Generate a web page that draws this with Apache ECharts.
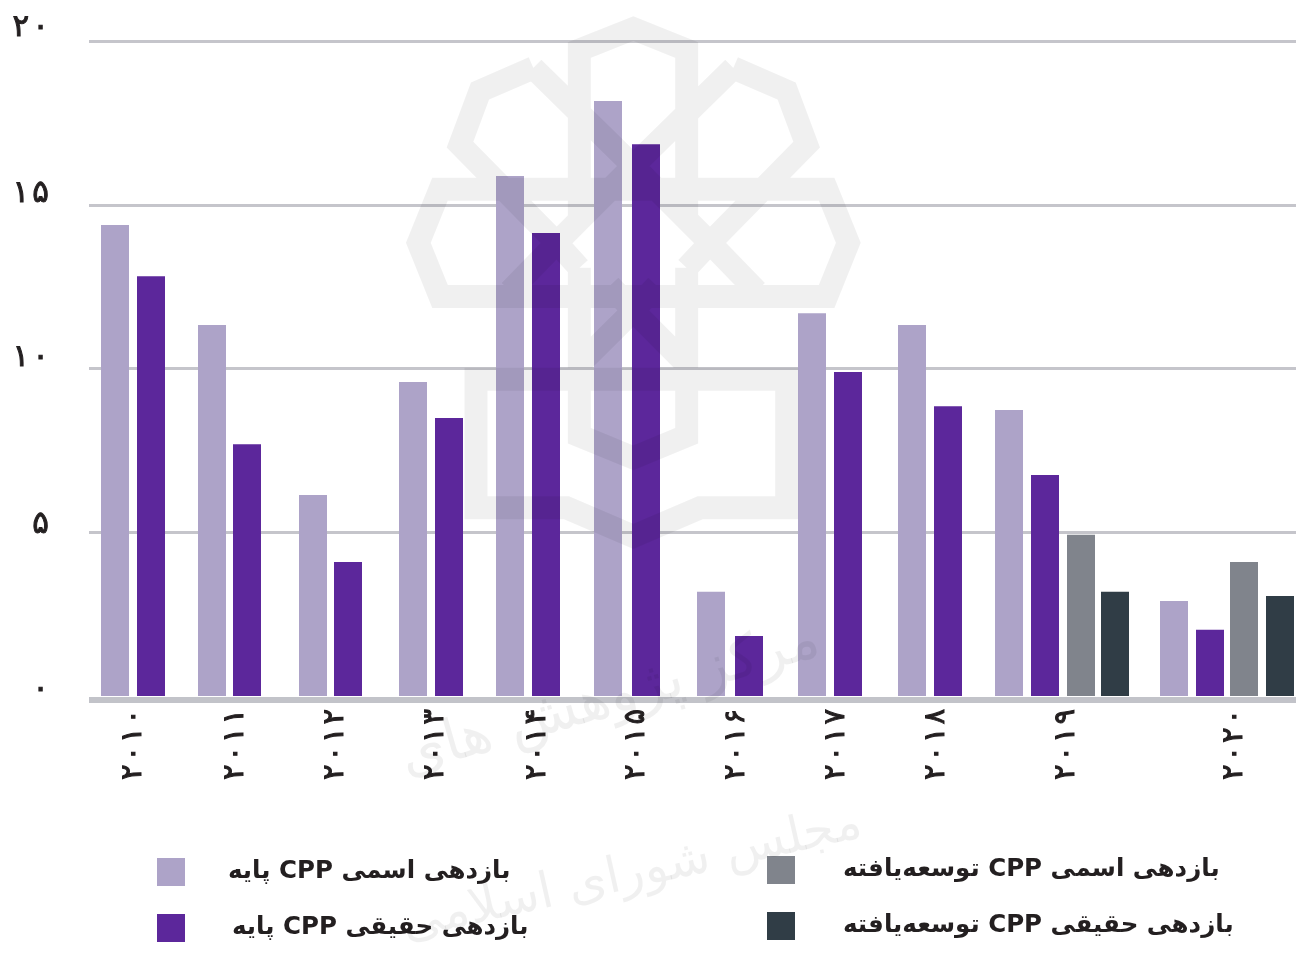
<!DOCTYPE html>
<html dir="rtl">
<head>
<meta charset="utf-8">
<style>
  html, body { margin: 0; padding: 0; background: #fff; }
  #chart { width: 1303px; height: 955px; position: absolute; left: 0; top: 0; }
</style>
<script src="https://cdn.jsdelivr.net/npm/echarts@6/dist/echarts.min.js"></script>
</head>
<body>
<div id="chart"></div>
<script>
const years = ['۲۰۱۰', '۲۰۱۱', '۲۰۱۲', '۲۰۱۳', '۲۰۱۴', '۲۰۱۵', '۲۰۱۶', '۲۰۱۷', '۲۰۱۸', '۲۰۱۹', '۲۰۲۰']
const yTicks = ['۰', '۵', '۱۰', '۱۵', '۲۰']

const nominalBase = [14.38, 11.33, 6.14, 9.59, 15.88, 18.17, 3.18, 11.69, 11.33, 8.73, 2.9]
const realBase = [12.82, 7.69, 4.09, 8.49, 14.14, 16.85, 1.83, 9.89, 8.85, 6.75, 2.02]
const nominalDev = [4.92, 4.09]
const realDev = [3.18, 3.05]

const names = ['بازدهی اسمی CPP پایه', 'بازدهی حقیقی CPP پایه', 'بازدهی اسمی CPP توسعه‌یافته', 'بازدهی حقیقی CPP توسعه‌یافته']
const colors = ['#ada3c8', '#5c279b', '#80848c', '#303d46']

// x axis runs in px-like units from the left of the plot, the groups are not evenly spaced
const nominalBaseX = [26, 123, 224, 324, 421, 519, 622, 723, 823, 920, 1085]
const realBaseX = [62, 158, 259, 360, 457, 557, 660, 759, 859, 956, 1121]
const nominalDevX = [992, 1155]
const realDevX = [1026, 1191]
const yearLabelX = [44, 146, 246, 346, 448, 547, 647, 747, 847, 977, 1145]

const pairs = (xs, ys) => ys.map((v, i) => [xs[i], v])

const barSeries = (name, i, xs, ys) => ({
  name,
  type: 'bar',
  barWidth: 28,
  barGap: '-100%',
  itemStyle: { color: colors[i] },
  data: pairs(xs, ys)
})

const legendSpots = [
  { left: 157, top: 858, gap: 43 },
  { left: 157, top: 914, gap: 47 },
  { left: 767, top: 856, gap: 48 },
  { left: 767, top: 912, gap: 48 }
]

const fontFa = '"DejaVu Sans", "Noto Sans", sans-serif'
const inkColor = '#231f20'
const wm = 'rgba(0,0,0,0.06)'
// digits in the reference are set wide apart, LRO keeps them in order inside the rtl page
const spaced = s => '\u202d' + s.split('').join('\u200a') + '\u202c'

// line height per tick, the digits sit at different heights over their lines
const tickLine = { s0: 12, s1: 14, s2: 22, s3: 22, s4: 26 }
const tickRich = {}
Object.keys(tickLine).forEach(k => {
  tickRich[k] = {
    fontSize: 31,
    color: inkColor,
    fontFamily: fontFa,
    textBorderColor: inkColor,
    textBorderWidth: 1,
    lineHeight: tickLine[k]
  }
})

// faint logo of the watermark, drawn on top of the bars
const logoPath = [
  'M568 610 L568 140 L730 80 L890 140 L890 610',
  'M568 750 L568 1220 L730 1282 L890 1220 L890 750',
  'M85 680 L150 530 L1310 530 L1375 680 L1310 830 L150 830 Z',
  'M258 1062 L258 1422 L530 1422 L730 1502 L930 1422 L1190 1422 L1190 1062 Z',
  'M430 190 L270 255 L210 405 L500 680 L568 750',
  'M1030 190 L1190 255 L1250 405 L960 680 L890 750',
  'M430 190 L730 465 L960 680 L1100 815',
  'M1030 190 L730 465 L500 680 L360 815',
  'M568 1020 L730 870 L890 1020 M730 870 L660 800 M730 870 L800 800'
].join(' ')

const chart = echarts.init(document.getElementById('chart'))
chart.setOption({
  animation: false,
  backgroundColor: '#fff',
  textStyle: { fontFamily: fontFa },
  grid: { left: 89, right: 7, top: 41, bottom: 259 },
  xAxis: {
    type: 'value',
    min: 0,
    max: 1207,
    offset: 4,
    splitLine: { show: false },
    axisTick: { show: false },
    axisLine: { show: true, onZero: false, lineStyle: { color: '#c2c3c9', width: 6, cap: 'butt' } },
    axisLabel: {
      customValues: yearLabelX,
      rotate: 90,
      margin: 9,
      fontSize: 29,
      color: inkColor,
      textBorderColor: inkColor,
      textBorderWidth: 1,
      fontFamily: fontFa,
      formatter: v => spaced(years[yearLabelX.indexOf(v)])
    }
  },
  yAxis: {
    type: 'value',
    min: 0,
    max: 20,
    interval: 5,
    axisLine: { show: false },
    axisTick: { show: false },
    splitLine: { showMinLine: false, lineStyle: { color: '#c5c5cb', width: 3 } },
    axisLabel: {
      margin: 40,
      verticalAlign: 'bottom',
      formatter: v => `{s${v / 5}|${spaced(yTicks[v / 5])}}`,
      rich: tickRich
    }
  },
  legend: names.map((n, i) => ({
    data: [n],
    left: legendSpots[i].left,
    top: legendSpots[i].top,
    padding: 0,
    itemWidth: 28,
    itemHeight: 28,
    itemGap: 0,
    icon: 'rect',
    selectedMode: false,
    textStyle: {
      fontSize: 24.5,
      fontWeight: 'bold',
      color: inkColor,
      fontFamily: fontFa,
      padding: [0, 0, 0, legendSpots[i].gap - 5]
    }
  })),
  series: [
    barSeries(names[0], 0, nominalBaseX, nominalBase),
    barSeries(names[1], 1, realBaseX, realBase),
    barSeries(names[2], 2, nominalDevX, nominalDev),
    barSeries(names[3], 3, realDevX, realDev),
    {
      type: 'custom',
      coordinateSystem: 'none',
      silent: true,
      z: 100,
      data: [0],
      renderItem: () => ({
        type: 'path',
        shape: { pathData: logoPath, x: 418.33, y: 28.57, width: 430, height: 507.86, layout: 'cover' },
        style: { fill: 'none', stroke: wm, lineWidth: 23, lineJoin: 'miter' }
      })
    }
  ],
  graphic: [
    {
      type: 'text',
      silent: true,
      z: 100,
      x: 610,
      y: 700,
      rotation: 0.28,
      style: { text: 'مرکز پژوهش های', fill: wm, font: '58px "DejaVu Sans"', textAlign: 'center', textVerticalAlign: 'middle' }
    },
    {
      type: 'text',
      silent: true,
      z: 100,
      x: 632,
      y: 875,
      rotation: 0.22,
      style: { text: 'مجلس شورای اسلامی', fill: wm, font: '50px "DejaVu Sans"', textAlign: 'center', textVerticalAlign: 'middle' }
    }
  ]
})
</script>
</body>
</html>
